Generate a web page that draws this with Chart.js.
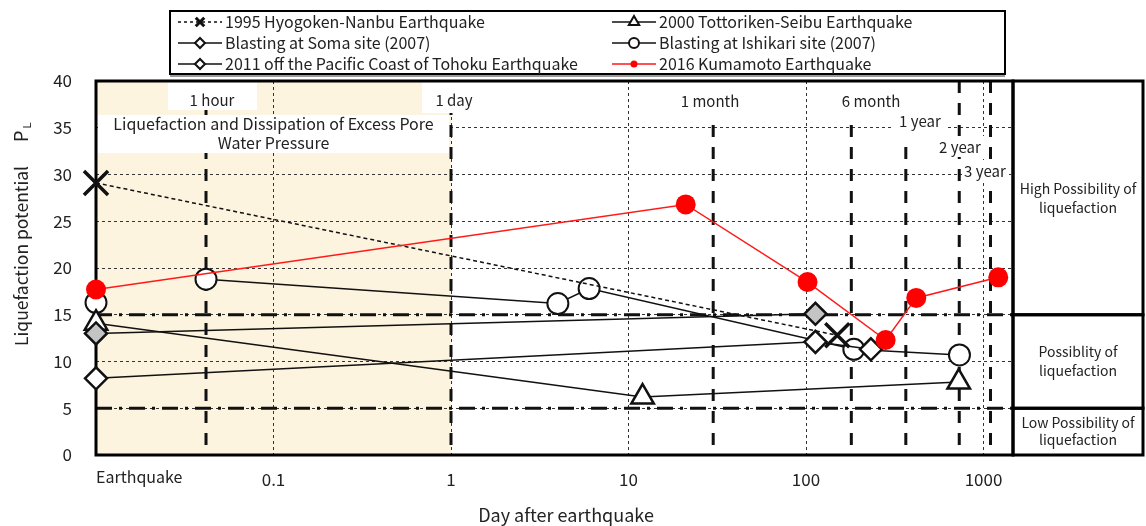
<!DOCTYPE html>
<html>
<head>
<meta charset="utf-8">
<script src="https://cdn.jsdelivr.net/npm/chart.js@4/dist/chart.umd.min.js"></script>
<style>
  html, body { margin: 0; padding: 0; background: #fff; }
  canvas { display: block; }
</style>
</head>
<body>
<canvas id="c" width="1146" height="526"></canvas>
<script>
// Time axis in days after the earthquake; 0.01 marks the earthquake itself
const xTicks = [0.01, 0.1, 1, 10, 100, 1000];
const xTickLabels = ['Earthquake', '0.1', '1', '10', '100', '1000'];
const yTicks = [0, 5, 10, 15, 20, 25, 30, 35, 40];

const seriesNames = [
  '1995 Hyogoken-Nanbu Earthquake',
  '2000 Tottoriken-Seibu Earthquake',
  'Blasting at Soma site (2007)',
  'Blasting at Ishikari site (2007)',
  '2011 off the Pacific Coast of Tohoku Earthquake',
  '2016 Kumamoto Earthquake'
];

const hyogoDays = [0.01, 150];
const hyogoPL = [29.1, 12.8];
const tottoriDays = [0.01, 12, 725];
const tottoriPL = [14.1, 6.2, 7.8];
const somaDays = [0.01, 113];
const somaPL = [13.0, 15.1];
const ishikariDays = [0.01, 1 / 24, 4, 6, 186, 732];
const ishikariPL = [16.3, 18.8, 16.2, 17.8, 11.3, 10.7];
const tohokuDays = [0.01, 113, 232];
const tohokuPL = [8.2, 12.1, 11.3];
const kumamotoDays = [0.01, 21, 102, 281, 418, 1211];
const kumamotoPL = [17.7, 26.8, 18.5, 12.3, 16.8, 19.0];

// Elapsed-time markers
const periodDays = [1 / 24, 1, 30, 180, 365, 730, 1095];
const periodLabels = ['1 hour', '1 day', '1 month', '6 month', '1 year', '2 year', '3 year'];

// Liquefaction-potential class boundaries and their captions
const thresholdPL = [15, 5];
const zoneLabels = [
  ['High Possibility of', 'liquefaction'],
  ['Possiblity of', 'liquefaction'],
  ['Low Possibility of', 'liquefaction']
];
const phaseLabel = ['Liquefaction and Dissipation of Excess Pore', 'Water Pressure'];

const FONT = '"Noto Sans CJK JP", "Noto Sans", sans-serif';
const INK = '#222';
Chart.defaults.font.family = FONT;
Chart.defaults.color = INK;

const pts = (xs, ys) => xs.map((d, i) => ({ x: d, y: ys[i] }));

const datasets = [
  { label: seriesNames[0], data: pts(hyogoDays, hyogoPL), borderColor: '#111', borderWidth: 1.5, borderDash: [4, 3],
    pointStyle: 'crossRot', pointRadius: 17, pointBorderWidth: 3.5, pointBorderColor: '#111', pointBackgroundColor: '#111', order: 1,
    legendRadius: 6, legendBorder: 3 },
  { label: seriesNames[1], data: pts(tottoriDays, tottoriPL), borderColor: '#111', borderWidth: 1.5,
    pointStyle: 'triangle', pointRadius: 13, pointBorderWidth: 2.5, pointBorderColor: '#111', pointBackgroundColor: '#fff', order: 4,
    legendRadius: 6, legendBorder: 2 },
  { label: seriesNames[2], data: pts(somaDays, somaPL), borderColor: '#111', borderWidth: 1.5,
    pointStyle: 'rectRot', pointRadius: 11, pointBorderWidth: 2.5, pointBorderColor: '#111', pointBackgroundColor: '#c4c4c4', order: 3,
    legendRadius: 5, legendBorder: 2, legendFill: '#fff' },
  { label: seriesNames[3], data: pts(ishikariDays, ishikariPL), borderColor: '#111', borderWidth: 1.5,
    segment: { borderColor: c => (c.p0DataIndex === 0 ? 'rgba(0,0,0,0)' : undefined) },
    pointStyle: 'circle', pointRadius: 10.5, pointBorderWidth: 2, pointBorderColor: '#111', pointBackgroundColor: '#fff', order: 5,
    legendRadius: 5, legendBorder: 2 },
  { label: seriesNames[4], data: pts(tohokuDays, tohokuPL), borderColor: '#111', borderWidth: 1.5,
    pointStyle: 'rectRot', pointRadius: 11, pointBorderWidth: 2.5, pointBorderColor: '#111', pointBackgroundColor: '#fff', order: 2,
    legendRadius: 5, legendBorder: 2 },
  { label: seriesNames[5], data: pts(kumamotoDays, kumamotoPL), borderColor: '#ff1a1a', borderWidth: 1.5,
    pointStyle: 'circle', pointRadius: 10, pointBorderWidth: 0, pointBorderColor: '#f00', pointBackgroundColor: '#f00', order: 0,
    legendRadius: 3.5, legendBorder: 0 }
].map(d => Object.assign({ tension: 0, fill: false, clip: false, pointHoverRadius: d.pointRadius }, d));

// Where each elapsed-time caption sits, with its white backing box [x, y, w, h]
const periodCaptionLayout = [
  { cx: 212, cy: 100, box: [168, 82, 89, 28] },
  { cx: 454, cy: 100, box: [422, 82, 66, 31] },
  { cx: 710, cy: 101, box: [680, 82, 62, 36] },
  { cx: 871, cy: 101, box: [838, 82, 66, 36] },
  { cx: 920, cy: 121, box: [893, 82, 52, 59] },
  { cx: 960, cy: 147, box: [935, 136, 50, 21] },
  { cx: 985, cy: 171, box: [962, 160, 47, 22] }
];

function setFont(ctx, size) { ctx.font = size + 'px ' + FONT; }

const decor = {
  id: 'decor',
  beforeDraw(chart) {
    const { ctx, chartArea: a, scales: { x } } = chart;
    ctx.save();
    ctx.fillStyle = '#fcf4df';
    ctx.fillRect(a.left, a.top, x.getPixelForValue(periodDays[1]) - a.left, a.bottom - a.top);
    ctx.restore();
  },
  beforeDatasetsDraw(chart) {
    const { ctx, chartArea: a, scales: { x, y } } = chart;
    ctx.save();
    ctx.strokeStyle = '#111';

    // class boundaries
    ctx.lineWidth = 3;
    ctx.setLineDash([16, 7, 3, 7]);
    thresholdPL.forEach(v => {
      const py = y.getPixelForValue(v);
      ctx.beginPath(); ctx.moveTo(a.left, py); ctx.lineTo(a.right, py); ctx.stroke();
    });

    // elapsed-time markers
    ctx.setLineDash([12, 10]);
    periodDays.forEach(d => {
      const px = x.getPixelForValue(d);
      ctx.beginPath(); ctx.moveTo(px, a.top); ctx.lineTo(px, a.bottom); ctx.stroke();
    });
    ctx.setLineDash([]);

    // captions
    ctx.textAlign = 'center';
    ctx.textBaseline = 'middle';
    setFont(ctx, 15);
    periodLabels.forEach((t, i) => {
      const L = periodCaptionLayout[i];
      ctx.fillStyle = '#fff';
      ctx.fillRect(L.box[0], L.box[1], L.box[2], L.box[3]);
    });
    periodLabels.forEach((t, i) => {
      const L = periodCaptionLayout[i];
      ctx.fillStyle = INK;
      ctx.fillText(t, L.cx, L.cy);
    });

    ctx.fillStyle = '#fff';
    ctx.fillRect(a.left + 2, 115, x.getPixelForValue(periodDays[1]) - a.left - 4, 38);
    ctx.fillStyle = INK;
    setFont(ctx, 16);
    const cx = (a.left + x.getPixelForValue(periodDays[1])) / 2;
    ctx.fillText(phaseLabel[0], cx, 124, 340);
    ctx.fillText(phaseLabel[1], cx, 143);

    // plot frame
    ctx.lineWidth = 3;
    ctx.strokeStyle = '#000';
    ctx.strokeRect(a.left, a.top, a.right - a.left, a.bottom - a.top);
    ctx.restore();
  },
  afterDraw(chart) {
    const { ctx, chartArea: a, scales: { x, y } } = chart;
    ctx.save();
    ctx.fillStyle = INK;

    // first x tick caption, left-aligned at the axis origin
    setFont(ctx, 16);
    ctx.textAlign = 'left';
    ctx.textBaseline = 'middle';
    ctx.fillText(xTickLabels[0], x.getPixelForValue(xTicks[0]), 477);

    // axis titles
    setFont(ctx, 18);
    ctx.textAlign = 'center';
    ctx.fillText('Day after earthquake', 566, 515);

    ctx.save();
    ctx.translate(21, 346);
    ctx.rotate(-Math.PI / 2);
    ctx.textAlign = 'left';
    setFont(ctx, 17.5);
    const main = 'Liquefaction potential';
    const w = ctx.measureText(main).width;
    ctx.fillText(main, 0, 0);
    setFont(ctx, 18);
    ctx.fillText('P', w + 24, 0);
    const pw = ctx.measureText('P').width;
    setFont(ctx, 11);
    ctx.fillText('L', w + 24 + pw + 2, 6);
    ctx.restore();

    // liquefaction class panel
    const bounds = [y.getPixelForValue(40), y.getPixelForValue(thresholdPL[0]), y.getPixelForValue(thresholdPL[1]), y.getPixelForValue(0)];
    const px0 = a.right, px1 = 1143;
    ctx.strokeStyle = '#000';
    ctx.lineWidth = 3;
    for (let i = 0; i < 3; i++) {
      ctx.strokeRect(px0, bounds[i], px1 - px0, bounds[i + 1] - bounds[i]);
    }
    setFont(ctx, 14);
    ctx.textAlign = 'center';
    ctx.textBaseline = 'middle';
    zoneLabels.forEach((lines, i) => {
      const mid = (bounds[i] + bounds[i + 1]) / 2;
      const gap = i === 2 ? 17 : 19;
      lines.forEach((t, j) => {
        ctx.fillText(t, (px0 + px1) / 2, mid + (j - (lines.length - 1) / 2) * gap, 124);
      });
    });

    // legend
    ctx.lineWidth = 2;
    ctx.strokeRect(170, 11, 835, 63);
    ctx.strokeStyle = '#999';
    ctx.beginPath(); ctx.moveTo(170, 76); ctx.lineTo(1005, 76); ctx.stroke();
    const colX = [178, 612];
    const rowY = [22, 43, 64];
    chart.data.datasets.forEach((ds, i) => {
      const lx = colX[i % 2], ly = rowY[Math.floor(i / 2)];
      ctx.strokeStyle = ds.borderColor;
      ctx.lineWidth = 1.5;
      ctx.setLineDash(ds.borderDash ? [3, 3] : []);
      ctx.beginPath(); ctx.moveTo(lx, ly); ctx.lineTo(lx + 44, ly); ctx.stroke();
      ctx.setLineDash([]);
      ctx.fillStyle = ds.legendFill || ds.pointBackgroundColor;
      ctx.strokeStyle = ds.pointBorderColor;
      ctx.lineWidth = ds.legendBorder;
      Chart.helpers.drawPoint(ctx, { pointStyle: ds.pointStyle, rotation: 0, radius: ds.legendRadius, borderWidth: ds.legendBorder }, lx + 22, ly);
      ctx.fillStyle = INK;
      setFont(ctx, 16);
      ctx.textAlign = 'left';
      ctx.textBaseline = 'middle';
      ctx.fillText(ds.label, lx + 47, ly);
    });
    ctx.restore();
  }
};

new Chart(document.getElementById('c'), {
  type: 'line',
  data: { datasets },
  options: {
    responsive: false,
    animation: false,
    devicePixelRatio: 1,
    layout: { padding: { left: 0, top: 81, right: 133, bottom: 0 } },
    plugins: { legend: { display: false }, tooltip: { enabled: false } },
    scales: {
      x: {
        type: 'logarithmic',
        min: 0.01,
        max: 1466,
        afterBuildTicks: s => { s.ticks = xTicks.map(v => ({ value: v })); },
        afterFit: s => { s.height = 71; },
        ticks: {
          autoSkip: false, maxRotation: 0, padding: 14, font: { size: 17 },
          callback: (v, i) => (i === 0 ? '' : xTickLabels[i])
        },
        grid: { color: '#333', lineWidth: 1, drawTicks: false },
        border: { display: false, dash: [3, 3] }
      },
      y: {
        type: 'linear',
        min: 0,
        max: 40,
        afterBuildTicks: s => { s.ticks = yTicks.map(v => ({ value: v })); },
        afterFit: s => { s.width = 96; },
        ticks: { padding: 24, font: { size: 17 } },
        grid: { color: '#333', lineWidth: 1, drawTicks: false },
        border: { display: false, dash: [3, 3] }
      }
    }
  },
  plugins: [decor]
});
</script>
</body>
</html>
